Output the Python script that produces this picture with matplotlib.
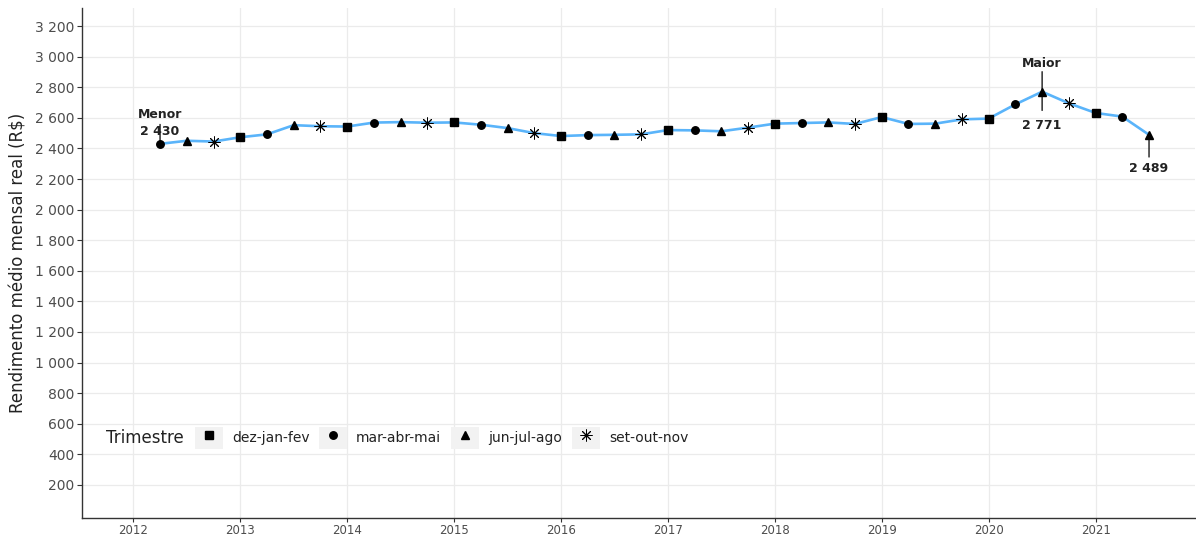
import matplotlib.pyplot as plt
from matplotlib.patches import Rectangle
from matplotlib.lines import Line2D
from matplotlib.legend_handler import HandlerTuple
from matplotlib.ticker import FuncFormatter

# trimestres moveis: ano + mes central
anos = [2012, 2012, 2012,
        2013, 2013, 2013, 2013,
        2014, 2014, 2014, 2014,
        2015, 2015, 2015, 2015,
        2016, 2016, 2016, 2016,
        2017, 2017, 2017, 2017,
        2018, 2018, 2018, 2018,
        2019, 2019, 2019, 2019,
        2020, 2020, 2020, 2020,
        2021, 2021, 2021]
trimestres = ["mar-abr-mai", "jun-jul-ago", "set-out-nov"] + \
             ["dez-jan-fev", "mar-abr-mai", "jun-jul-ago", "set-out-nov"] * 8 + \
             ["dez-jan-fev", "mar-abr-mai", "jun-jul-ago"]
rendimento = [2430, 2450, 2445,
              2473, 2492, 2552, 2545,
              2543, 2569, 2572, 2568,
              2570, 2555, 2533, 2500,
              2481, 2487, 2489, 2492,
              2520, 2518, 2512, 2536,
              2562, 2566, 2570, 2560,
              2605, 2560, 2562, 2590,
              2595, 2688, 2771, 2695,
              2632, 2608, 2489]

mes_central = {"dez-jan-fev": 1, "mar-abr-mai": 4, "jun-jul-ago": 7, "set-out-nov": 10}
ordem = ["dez-jan-fev", "mar-abr-mai", "jun-jul-ago", "set-out-nov"]
estilos = {
    "dez-jan-fev": dict(marker="s", markersize=5.6),
    "mar-abr-mai": dict(marker="o", markersize=5.4),
    "jun-jul-ago": dict(marker="^", markersize=6.2),
    "set-out-nov": dict(marker=(8, 2, 0), markersize=8.5, markeredgewidth=0.7),
}

x = [a + (mes_central[t] - 1) / 12 for a, t in zip(anos, trimestres)]

fig = plt.figure(figsize=(11.96, 5.36), dpi=100)
ax = fig.add_axes([82 / 1196, 18 / 536, 1113 / 1196, 510 / 536])

ax.plot(x, rendimento, color="#5AB4FA", lw=1.9, zorder=2)

for t in ordem:
    xs = [xi for xi, ti in zip(x, trimestres) if ti == t]
    ys = [yi for yi, ti in zip(rendimento, trimestres) if ti == t]
    ax.plot(xs, ys, ls="none", color="black", zorder=3, **estilos[t])

# destaques: menor, maior e ultimo
i_min = rendimento.index(min(rendimento))
i_max = rendimento.index(max(rendimento))
i_last = len(rendimento) - 1
fmt = lambda v: f"{v:,.0f}".replace(",", " ")
kw = dict(ha="center", va="center", fontsize=9, fontweight="bold", color="#222222")
lk = dict(color="black", lw=0.9, zorder=4)

ax.annotate("", xy=(x[i_min], rendimento[i_min]), xytext=(0, 16), textcoords="offset points",
            arrowprops=dict(arrowstyle="-", **lk))
ax.annotate("Menor\n" + fmt(rendimento[i_min]),
            xy=(x[i_min], rendimento[i_min]), xytext=(0, 15), textcoords="offset points",
            linespacing=1.45, **kw)

ax.annotate("", xy=(x[i_max], 2920), xytext=(x[i_max], 2630), arrowprops=dict(arrowstyle="-", **lk))
ax.annotate("Maior", xy=(x[i_max], rendimento[i_max]), xytext=(0, 20), textcoords="offset points", **kw)
ax.annotate(fmt(rendimento[i_max]), xy=(x[i_max], rendimento[i_max]), xytext=(0, -24),
            textcoords="offset points", **kw)

ax.annotate("", xy=(x[i_last], rendimento[i_last]), xytext=(0, -18), textcoords="offset points",
            arrowprops=dict(arrowstyle="-", **lk))
ax.annotate(fmt(rendimento[i_last]), xy=(x[i_last], rendimento[i_last]), xytext=(0, -24),
            textcoords="offset points", **kw)

ax.set_xlim(2011.52, 2021.93)
ax.set_ylim(-16, 3318)
ax.set_xticks(range(2012, 2022))
ax.set_yticks(range(200, 3201, 200))
ax.yaxis.set_major_formatter(FuncFormatter(lambda v, p: fmt(v)))
ax.tick_params(axis="y", labelsize=10, labelcolor="#4D4D4D", color="#333333", length=3.5, pad=2)
ax.tick_params(axis="x", labelsize=8.5, labelcolor="#4D4D4D", color="#333333", length=3, pad=1.5)
ax.grid(True, color="#EBEBEB", lw=0.9, zorder=0)
ax.set_axisbelow(True)
for s in ["top", "right"]:
    ax.spines[s].set_visible(False)
for s in ["left", "bottom"]:
    ax.spines[s].set_color("#333333")
    ax.spines[s].set_linewidth(1.0)
ax.set_ylabel("Rendimento médio mensal real (R$)", fontsize=12, color="#222222", labelpad=5)

# legenda horizontal com fundo cinza nas chaves
handles = []
for t in ordem:
    bg = Rectangle((0, 0), 1, 1, facecolor="#F2F2F2", edgecolor="none")
    mk = Line2D([], [], ls="none", color="black", **estilos[t])
    handles.append((bg, mk))
fig.text(106 / 1196, 1 - 438 / 536, "Trimestre", fontsize=12, va="center", ha="left", color="#222222")
leg = ax.legend(handles, ordem, handler_map={tuple: HandlerTuple(ndivide=1)},
                ncol=4, frameon=False, fontsize=10, loc="center left",
                bbox_to_anchor=(195 / 1196, 1 - 438 / 536), bbox_transform=fig.transFigure,
                handlelength=2.0, handleheight=2.0, handletextpad=0.65, columnspacing=0.72,
                borderpad=0, borderaxespad=0)
for txt in leg.get_texts():
    txt.set_color("#222222")

fig.savefig("out.png", dpi=100)
